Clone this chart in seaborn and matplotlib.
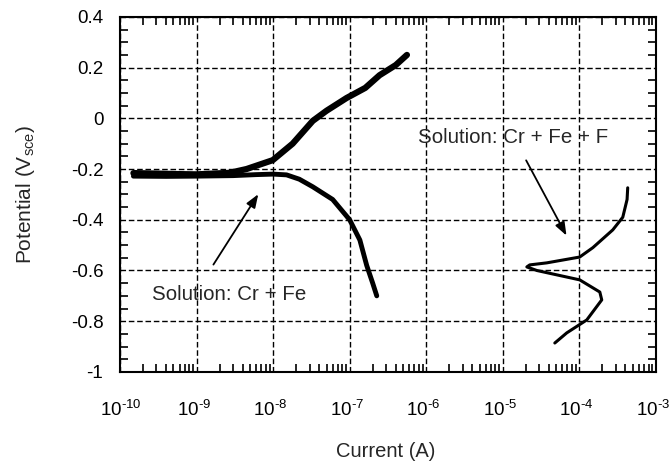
import numpy as np
import pandas as pd
import matplotlib
matplotlib.use("Agg")
import matplotlib.pyplot as plt
import matplotlib.transforms as mtrans
import seaborn as sns
from matplotlib.ticker import LogLocator, MultipleLocator, FixedLocator, NullFormatter

# ---- data ----
anodic_cr_fe_x = [1.5e-10, 3e-10, 6e-10, 1e-9, 2.7e-9, 4.5e-9, 9.9e-9, 1.8e-8, 3.3e-8, 5.0e-8, 9.1e-8, 1.6e-7, 2.46e-7, 4.0e-7, 5.6e-7]
anodic_cr_fe_y = [-0.216, -0.218, -0.22, -0.221, -0.215, -0.20, -0.165, -0.10, -0.01, 0.03, 0.08, 0.12, 0.17, 0.21, 0.25]
cathodic_cr_fe_x = [1.5e-10, 4e-10, 1e-9, 3e-9, 6e-9, 1e-8, 1.5e-8, 2.2e-8, 3.3e-8, 6.0e-8, 1.0e-7, 1.36e-7, 1.67e-7, 2.0e-7, 2.26e-7]
cathodic_cr_fe_y = [-0.228, -0.229, -0.228, -0.226, -0.222, -0.22, -0.223, -0.24, -0.27, -0.32, -0.40, -0.48, -0.58, -0.65, -0.70]
cr_fe_f_x = [4.28e-4, 4.2e-4, 3.69e-4, 2.73e-4, 1.50e-4, 1.01e-4, 3.75e-5, 2.25e-5, 2.06e-5, 2.78e-5, 1.01e-4, 1.85e-4, 1.96e-4, 1.25e-4, 6.85e-5, 4.78e-5]
cr_fe_f_y = [-0.274, -0.32, -0.39, -0.44, -0.51, -0.547, -0.57, -0.578, -0.586, -0.60, -0.637, -0.685, -0.716, -0.795, -0.846, -0.886]
x_decades = [-10, -9, -8, -7, -6, -5, -4, -3]
y_ticks = [0.4, 0.2, 0, -0.2, -0.4, -0.6, -0.8, -1]

sns.set_style("ticks")
plt.rcParams['font.family'] = ['Liberation Sans', 'DejaVu Sans']
plt.rcParams['mathtext.fontset'] = 'custom'
plt.rcParams['mathtext.rm'] = 'Liberation Sans'
plt.rcParams['mathtext.it'] = 'Liberation Sans'
plt.rcParams['mathtext.default'] = 'regular'

fig = plt.figure(figsize=(6.7, 4.69), dpi=100)
ax = fig.add_axes([0.179, 0.207, 0.8, 0.757])

df1 = pd.DataFrame({"x": anodic_cr_fe_x, "y": anodic_cr_fe_y})
df2 = pd.DataFrame({"x": cathodic_cr_fe_x, "y": cathodic_cr_fe_y})
df3 = pd.DataFrame({"x": cr_fe_f_x, "y": cr_fe_f_y})
sns.lineplot(data=df1, x="x", y="y", sort=False, ax=ax, color="black", linewidth=4.5, estimator=None)
sns.lineplot(data=df2, x="x", y="y", sort=False, ax=ax, color="black", linewidth=3.5, estimator=None)
sns.lineplot(data=df3, x="x", y="y", sort=False, ax=ax, color="black", linewidth=2.2, estimator=None)

ax.set_xscale("log")
ax.set_xlim(1e-10, 1e-3)
ax.set_ylim(-1, 0.4)

ax.xaxis.set_major_locator(FixedLocator([10.0**d for d in x_decades]))
ax.set_xticklabels([f"$10^{{\\text{{{d}}}}}$" for d in x_decades])
ax.xaxis.set_minor_locator(LogLocator(base=10, subs=np.arange(2, 10), numticks=20))
ax.xaxis.set_minor_formatter(NullFormatter())
ax.yaxis.set_major_locator(FixedLocator(y_ticks))
ax.set_yticklabels([f"{v:g}" for v in y_ticks])
ax.yaxis.set_minor_locator(MultipleLocator(0.05))

ax.tick_params(which="major", direction="in", length=0, colors="black")
ax.tick_params(axis="x", which="major", pad=20, labelsize=13.5)
ax.tick_params(axis="y", which="major", pad=12, labelsize=13.5)
ax.tick_params(which="minor", direction="in", length=6, width=1.2, top=True, right=True, color="black")
ax.tick_params(top=True, right=True)

shift = mtrans.ScaledTranslation(-20 / 100, 0, fig.dpi_scale_trans)
for lab in ax.get_xticklabels():
    lab.set_horizontalalignment("left")
    lab.set_transform(lab.get_transform() + shift)

ax.grid(True, which="major", linestyle=(0, (4, 2)), color="black", linewidth=1)
for s in ax.spines.values():
    s.set_linewidth(1.5)
    s.set_color("black")

ax.set_xlabel("Current (A)", fontsize=14.5)
ax.xaxis.set_label_coords(0.495, -0.225)
ax.xaxis.label.set_va("center")
ax.set_ylabel("Potential (V$_{\\mathregular{sce}}$)", fontsize=15)
ax.yaxis.set_label_coords(-0.177, 0.5)
ax.yaxis.label.set_va("center")

ax.annotate("", xy=(6.7e-9, -0.29), xytext=(1.59e-9, -0.586),
            arrowprops=dict(arrowstyle="-|>,head_length=0.8,head_width=0.3", color="black", lw=1.3))
ax.text(2.6e-10, -0.696, "Solution: Cr + Fe", fontsize=14.8, va="center", ha="left")
ax.annotate("", xy=(7.06e-5, -0.472), xytext=(1.94e-5, -0.156),
            arrowprops=dict(arrowstyle="-|>,head_length=0.8,head_width=0.3", color="black", lw=1.3))
ax.text(7.8e-7, -0.077, "Solution: Cr + Fe + F", fontsize=14.8, va="center", ha="left")

fig.savefig("out.png", dpi=100)
